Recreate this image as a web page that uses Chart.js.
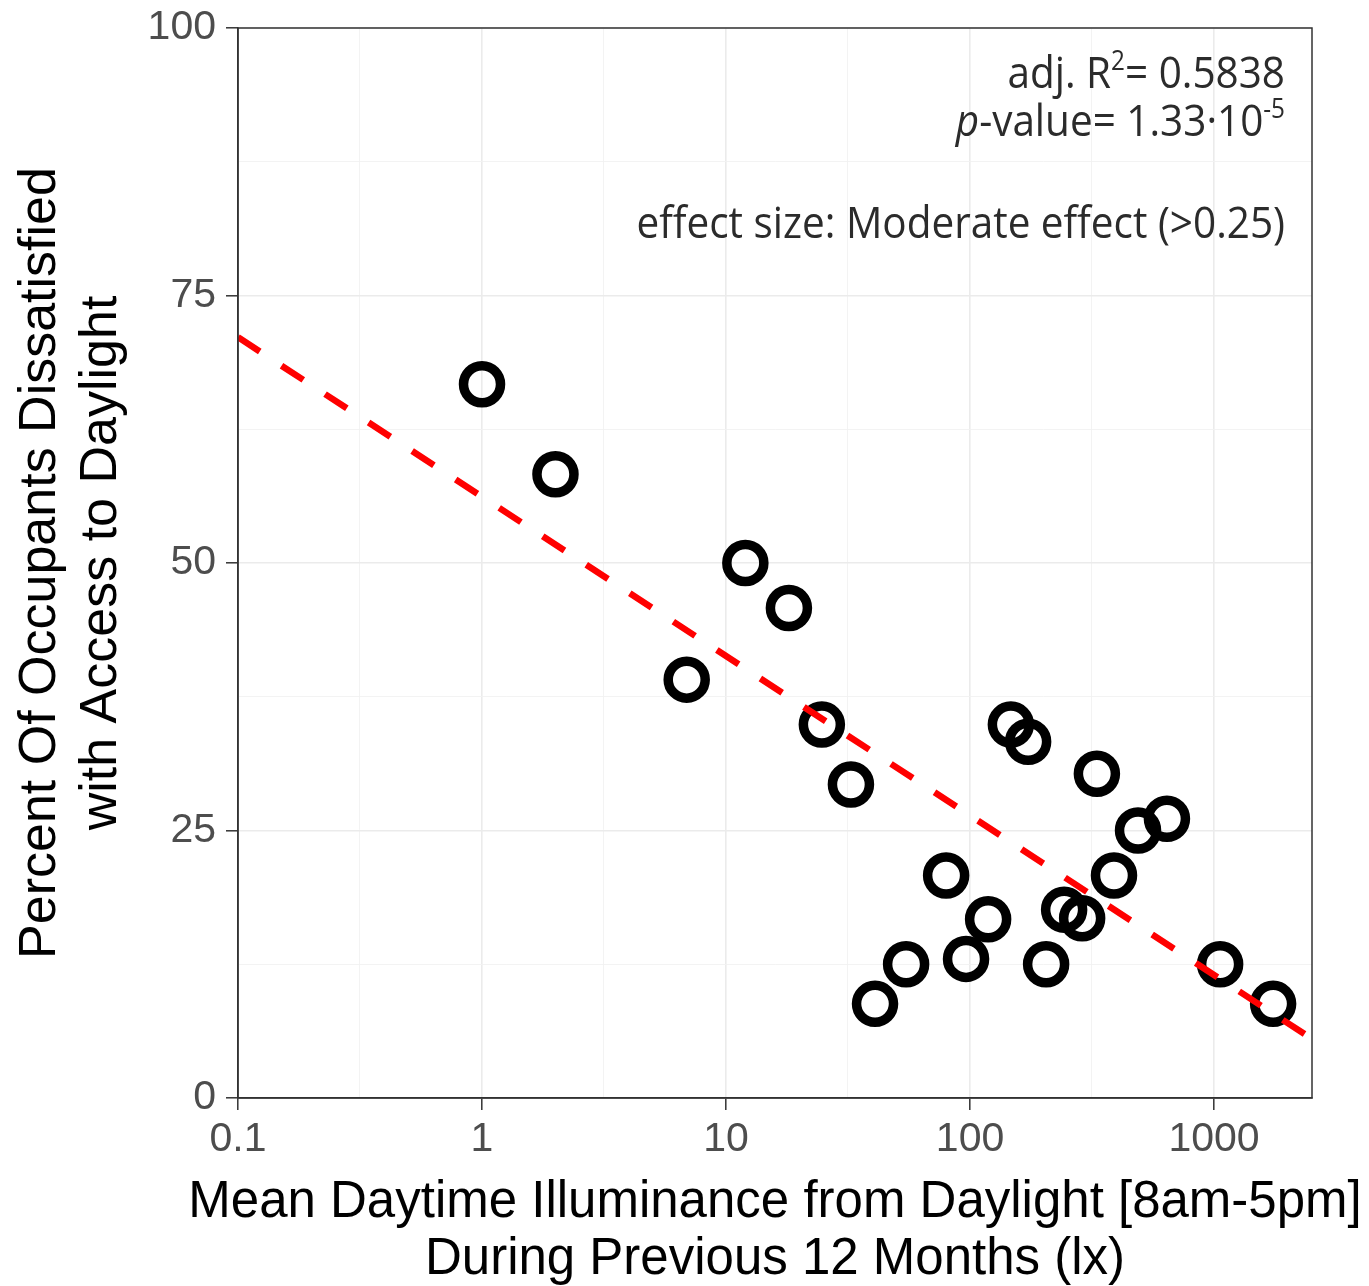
<!DOCTYPE html>
<html>
<head>
<meta charset="utf-8">
<script src="https://cdn.jsdelivr.net/npm/chart.js@4.4.0/dist/chart.umd.min.js"></script>
<style>
  html, body { margin: 0; padding: 0; background: #fff; }
</style>
</head>
<body>
<canvas id="chart" width="1369" height="1286"></canvas>
<script>
// Data
const illuminance = [1, 2, 12, 18.1, 6.9, 24.7, 32.5, 40.8, 54.7, 79.8, 96.3, 118.6, 147, 173, 205, 243, 288, 331, 389, 488, 641, 1059, 1746];
const dissatisfied = [66.7, 58.3, 50.0, 45.8, 39.1, 34.9, 29.3, 8.8, 12.5, 20.8, 13.0, 16.7, 34.9, 33.3, 12.5, 17.6, 16.8, 30.3, 20.8, 25.0, 26.1, 12.5, 8.8];

// Regression: y = a + b * log10(x)
const fitIntercept = 56.2;
const fitSlope = -14.9;
const fitRange = [0.1, 2520];

const xTicks = [0.1, 1, 10, 100, 1000];
const xMinor = [0.316, 3.16, 31.6, 316];
const yTicks = [0, 25, 50, 75, 100];
const yMinor = [12.5, 37.5, 62.5, 87.5];

const xTitle = ['Mean Daytime Illuminance from Daylight [8am-5pm]', 'During Previous 12 Months (lx)'];
const yTitle = ['Percent Of Occupants Dissatisfied', 'with Access to Daylight'];

const statsLines = [
    [{ t: 'adj. R' }, { t: '2', sup: true }, { t: '= 0.5838' }],
    [{ t: 'p', italic: true }, { t: '-value= 1.33\u00b710' }, { t: '-5', sup: true }],
    [{ t: 'effect size: Moderate effect (>0.25)' }]
];

const majorX = new Set(xTicks);
const majorY = new Set(yTicks);

const gridColor = (major) => ctx => (major.has(ctx.tick && ctx.tick.value) ? '#ebebeb' : '#f2f2f2');
const gridWidth = (major) => ctx => (major.has(ctx.tick && ctx.tick.value) ? 1.6 : 0.9);
const tickColor = (major) => ctx => (major.has(ctx.tick && ctx.tick.value) ? '#333333' : 'rgba(0,0,0,0)');

// panel border, x title (may run wider than the panel) and annotation text
const panelPlugin = {
    id: 'panel',
    afterDraw(chart) {
        const { ctx, chartArea: a } = chart;
        ctx.save();
        ctx.strokeStyle = '#333333';
        ctx.lineWidth = 1.5;
        ctx.strokeRect(a.left, a.top, a.right - a.left, a.bottom - a.top);

        // x axis title
        ctx.fillStyle = '#000000';
        ctx.font = '51px "Liberation Sans", Arial';
        ctx.textAlign = 'center';
        ctx.textBaseline = 'alphabetic';
        const cx = (a.left + a.right) / 2;
        xTitle.forEach((line, i) => ctx.fillText(line, cx, 1217 + i * 57));

        // stats text
        const size = 44;
        const family = '"Open Sans", sans-serif';
        const baselines = [60, 108, 210];
        const rightX = a.right - 27;
        ctx.fillStyle = '#2b2b2b';
        ctx.textAlign = 'left';
        statsLines.forEach((segs, i) => {
            const fontFor = s => (s.italic ? 'italic ' : '') + (s.sup ? size * 0.6 : size) + 'px ' + family;
            let total = 0;
            segs.forEach(s => { ctx.font = fontFor(s); total += ctx.measureText(s.t).width; });
            ctx.save();
            ctx.translate(rightX, a.top + baselines[i]);
            ctx.scale(0.92, 1);
            let x = -total;
            segs.forEach(s => {
                ctx.font = fontFor(s);
                ctx.fillText(s.t, x, s.sup ? -size * 0.42 : 0);
                x += ctx.measureText(s.t).width;
            });
            ctx.restore();
        });
        ctx.restore();
    }
};

new Chart(document.getElementById('chart'), {
    type: 'scatter',
    data: {
        datasets: [
            {
                label: 'fit',
                data: fitRange.map(x => ({ x: x, y: fitIntercept + fitSlope * Math.log10(x) })),
                showLine: true,
                borderColor: '#ff0000',
                borderWidth: 6.5,
                borderDash: [26, 26],
                pointRadius: 0,
                fill: false,
                order: 0
            },
            {
                label: 'buildings',
                data: illuminance.map((x, i) => ({ x: x, y: dissatisfied[i] })),
                pointRadius: 18.5,
                pointHoverRadius: 18.5,
                borderWidth: 9.5,
                borderColor: '#000000',
                backgroundColor: 'rgba(0,0,0,0)',
                order: 1
            }
        ]
    },
    options: {
        responsive: false,
        animation: false,
        layout: { padding: { top: 8, right: 57, left: 0, bottom: 0 } },
        plugins: {
            legend: { display: false },
            tooltip: { enabled: false }
        },
        scales: {
            x: {
                type: 'logarithmic',
                min: fitRange[0],
                max: fitRange[1],
                afterBuildTicks: s => {
                    s.ticks = xTicks.concat(xMinor).sort((p, q) => p - q).map(v => ({ value: v }));
                },
                afterFit: s => { s.height = 188; },
                ticks: {
                    autoSkip: false,
                    maxRotation: 0,
                    padding: 9,
                    color: '#4d4d4d',
                    font: { family: '"Liberation Sans", Arial', size: 41, lineHeight: 1 },
                    callback: v => (majorX.has(v) ? String(v) : '')
                },
                grid: {
                    color: gridColor(majorX),
                    lineWidth: gridWidth(majorX),
                    tickLength: 12,
                    tickColor: tickColor(majorX),
                    tickWidth: 1.5
                },
                border: { color: '#333333', width: 1.5 },
                title: { display: false }
            },
            y: {
                min: 0,
                max: 100,
                afterBuildTicks: s => {
                    s.ticks = yTicks.concat(yMinor).sort((p, q) => p - q).map(v => ({ value: v }));
                },
                afterFit: s => { s.width = 238; },
                ticks: {
                    autoSkip: false,
                    padding: 10,
                    color: '#4d4d4d',
                    font: { family: '"Liberation Sans", Arial', size: 41, lineHeight: 0.2 },
                    callback: v => (majorY.has(v) ? String(v) : '')
                },
                grid: {
                    color: gridColor(majorY),
                    lineWidth: gridWidth(majorY),
                    tickLength: 12,
                    tickColor: tickColor(majorY),
                    tickWidth: 1.5
                },
                border: { color: '#333333', width: 1.5 },
                title: {
                    display: true,
                    text: yTitle,
                    color: '#000000',
                    font: { family: '"Liberation Sans", Arial', size: 52, lineHeight: 1.17 },
                    padding: { top: 10, bottom: 0 }
                }
            }
        }
    },
    plugins: [panelPlugin]
});
</script>
</body>
</html>
